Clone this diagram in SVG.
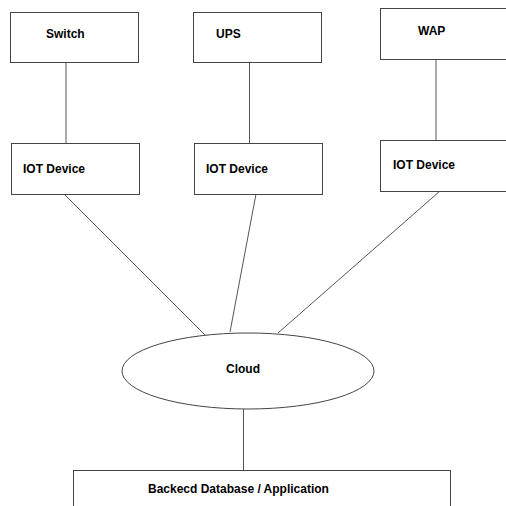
<svg xmlns="http://www.w3.org/2000/svg" width="506" height="506" viewBox="0 0 506 506">
<style>
.box{fill:#fff;stroke:#444;stroke-width:1}
.ln{stroke:#555;stroke-width:1;fill:none}
.t{font-family:"Liberation Sans",Arial,sans-serif;font-weight:bold;font-size:12px;fill:#000}
</style>
<rect width="506" height="506" fill="#fff"/>
<g id="connectors">
<line class="ln" x1="66" y1="63" x2="66" y2="143"/>
<line class="ln" x1="249.5" y1="63" x2="249.5" y2="143"/>
<line class="ln" x1="436" y1="60" x2="436" y2="140"/>
<line class="ln" x1="64" y1="194" x2="205" y2="335"/>
<line class="ln" x1="256" y1="194" x2="230" y2="332"/>
<line class="ln" x1="440" y1="191" x2="278" y2="333"/>
<line class="ln" x1="243.5" y1="409" x2="243.5" y2="470"/>
</g>
<g id="switch"><rect class="box" x="10.5" y="12.5" width="128" height="50"/><text class="t" x="46" y="38">Switch</text></g>
<g id="ups"><rect class="box" x="193.5" y="12.5" width="128" height="50"/><text class="t" x="216" y="38">UPS</text></g>
<g id="wap"><rect class="box" x="380.5" y="8.5" width="130" height="51"/><text class="t" x="418" y="35">WAP</text></g>
<g id="iot1"><rect class="box" x="11.5" y="143.5" width="128" height="51"/><text class="t" x="23" y="173">IOT Device</text></g>
<g id="iot2"><rect class="box" x="194.5" y="143.5" width="128" height="51"/><text class="t" x="206" y="173">IOT Device</text></g>
<g id="iot3"><rect class="box" x="380.5" y="140.5" width="130" height="51"/><text class="t" x="393" y="169">IOT Device</text></g>
<g id="cloud"><ellipse class="box" cx="248" cy="371" rx="126" ry="38"/><text class="t" x="226" y="373">Cloud</text></g>
<g id="backend"><rect class="box" x="73.5" y="470.5" width="377" height="50"/><text class="t" x="148" y="493">Backecd Database / Application</text></g>
</svg>
